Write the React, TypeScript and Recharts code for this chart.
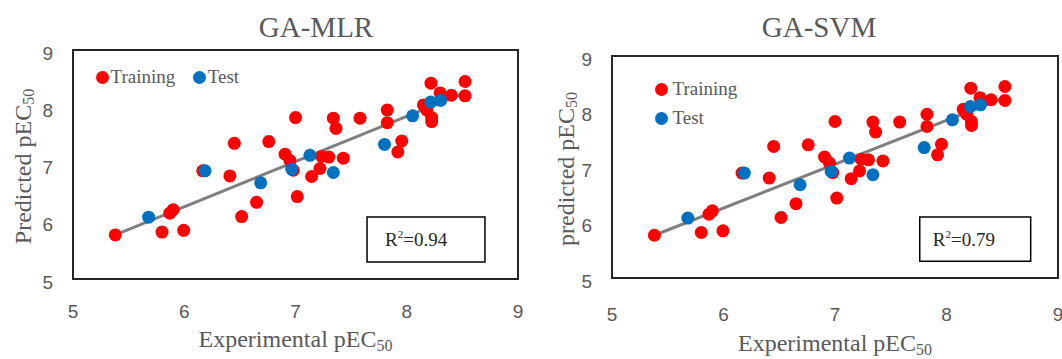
import React from 'react';
import { ScatterChart, Scatter, XAxis, YAxis, ReferenceArea, ReferenceLine, Legend, Label } from 'recharts';

// ---------- data ----------
const trainingExperimental = [5.38, 5.8, 5.995, 5.87, 5.9, 6.166, 6.41, 6.45, 6.516, 6.65, 6.76, 6.906, 6.95, 6.98, 7.0, 7.016, 7.145, 7.22, 7.235, 7.3, 7.34, 7.364, 7.43, 7.58, 7.825, 7.825, 7.92, 7.955, 8.15, 8.18, 8.218, 8.224, 8.224, 8.3, 8.4, 8.524, 8.524];
const trainingPredicted = [5.77, 5.82, 5.85, 6.15, 6.21, 6.89, 6.8, 7.37, 6.09, 6.34, 7.4, 7.18, 7.07, 6.9, 7.82, 6.44, 6.79, 6.93, 7.14, 7.13, 7.81, 7.63, 7.11, 7.81, 7.95, 7.73, 7.22, 7.41, 8.04, 7.95, 8.42, 7.82, 7.75, 8.25, 8.21, 8.45, 8.2];
const testExperimental = [5.68, 6.187, 6.687, 6.966, 7.13, 7.34, 7.8, 8.053, 8.215, 8.305];
const testPredicted = [6.08, 6.89, 6.68, 6.92, 7.16, 6.86, 7.35, 7.85, 8.09, 8.12];
const trendExperimental = [5.38, 8.53];
const trendPredicted = [5.77, 8.26];
const axisTicks = [5, 6, 7, 8, 9];
const axisDomain = [5, 9];
const seriesNames = ['Training', 'Test'];
const panelTitles = ['GA-MLR', 'GA-SVM'];
const yAxisTitles = ['Predicted pEC', 'predicted pEC'];
const xAxisTitle = 'Experimental pEC';
const subscriptText = '50';
const r2Values = ['0.94', '0.79'];
// R² annotation boxes (in data units): [x1, x2, y1, y2]
const r2Boxes = [
  [7.643, 8.703, 5.297, 6.083],
  [7.76, 8.755, 5.3, 6.1],
];

const trainingData = trainingExperimental.map((x, i) => ({ x, y: trainingPredicted[i] }));
const testData = testExperimental.map((x, i) => ({ x, y: testPredicted[i] }));

// ---------- style ----------
const SERIF = '"Liberation Serif", "Times New Roman", serif';
const SANS = '"Liberation Sans", Arial, sans-serif';
const GRAY = '#595959';
const RED = '#FF0000';
const BLUE = '#0070C0';
const COLORS = [RED, BLUE];

const panels = [
  {
    left: 0, width: 530,
    margin: { top: 50, right: 12, bottom: 40, left: 33 },
    titleX: 316, yLabelX: 22.5, xLabelDy: 68, xTickMargin: 26,
    legend: { vertical: false, left: 96, top: 66 },
    r2Dx: 18,
  },
  {
    left: 530, width: 532,
    margin: { top: 56, right: 4, bottom: 41, left: 42 },
    titleX: 289, yLabelX: 36, xLabelDy: 73, xTickMargin: 30,
    legend: { vertical: true, left: 125, top: 78 },
    r2Dx: 13,
  },
];

const RedDot = (p: any) => <circle cx={p.cx} cy={p.cy} r={6.5} fill={RED} />;
const BlueDot = (p: any) => <circle cx={p.cx} cy={p.cy} r={6.5} fill={BLUE} />;

const YTick = (p: any) => (
  <text x={p.x} y={p.y + 3} textAnchor="end" dominantBaseline="central" fill={GRAY} fontSize={19} fontFamily={SANS}>
    {p.payload.value}
  </text>
);
const XTick = (p: any) => (
  <text x={p.x} y={p.y} dy="0.71em" textAnchor="middle" fill={GRAY} fontSize={19} fontFamily={SANS}>
    {p.payload.value}
  </text>
);

const LegendBox = ({ vertical }: { vertical: boolean }) => (
  <div
    style={{
      display: 'flex',
      flexDirection: vertical ? 'column' : 'row',
      gap: vertical ? 7 : 18,
      fontFamily: SERIF,
      fontSize: 19,
      color: GRAY,
      whiteSpace: 'nowrap',
    }}
  >
    {seriesNames.map((n, i) => (
      <div key={n} style={{ display: 'flex', alignItems: 'center', height: 22, lineHeight: '22px' }}>
        <span
          style={{
            display: 'inline-block',
            width: 13,
            height: 13,
            borderRadius: '50%',
            background: COLORS[i],
            marginRight: vertical ? 4.5 : 1.5,
          }}
        />
        <span>{n}</span>
      </div>
    ))}
  </div>
);

function Panel({ idx }: { idx: number }) {
  const cfg = panels[idx];
  const box = r2Boxes[idx];
  return (
    <div style={{ position: 'absolute', left: cfg.left, top: 0, width: cfg.width, height: 359 }}>
      <div
        style={{
          position: 'absolute',
          left: cfg.titleX,
          top: 13,
          transform: 'translateX(-50%)',
          fontFamily: SERIF,
          fontSize: 29,
          lineHeight: '29px',
          color: GRAY,
          whiteSpace: 'nowrap',
        }}
      >
        {panelTitles[idx]}
      </div>
      <ScatterChart width={cfg.width} height={359} margin={cfg.margin} style={{ position: 'absolute', left: 0, top: 0 }}>
        <XAxis
          type="number"
          dataKey="x"
          domain={axisDomain}
          ticks={axisTicks}
          allowDataOverflow
          axisLine={false}
          tickLine={false}
          tickSize={0}
          tickMargin={cfg.xTickMargin}
          height={40}
          tick={<XTick />}
        >
          <Label
            content={(props: any) => {
              const vb = props.viewBox || {};
              return (
                <text x={vb.x + vb.width / 2} y={vb.y + cfg.xLabelDy} textAnchor="middle" fill={GRAY} fontFamily={SERIF} fontSize={24}>
                  {xAxisTitle}
                  <tspan fontSize={16} dy={4}>{subscriptText}</tspan>
                </text>
              );
            }}
          />
        </XAxis>
        <YAxis
          type="number"
          dataKey="y"
          domain={axisDomain}
          ticks={axisTicks}
          allowDataOverflow
          axisLine={false}
          tickLine={false}
          tickSize={0}
          tickMargin={20}
          width={40}
          tick={<YTick />}
        >
          <Label
            content={(props: any) => {
              const vb = props.viewBox || {};
              const cx = cfg.yLabelX;
              const cy = vb.y + vb.height / 2 + 2;
              return (
                <text
                  x={cx}
                  y={cy}
                  transform={`rotate(-90, ${cx}, ${cy})`}
                  textAnchor="middle"
                  dominantBaseline="central"
                  fill={GRAY}
                  fontFamily={SERIF}
                  fontSize={24}
                >
                  {yAxisTitles[idx]}
                  <tspan fontSize={16} dy={5}>{subscriptText}</tspan>
                </text>
              );
            }}
          />
        </YAxis>
        <ReferenceArea x1={axisDomain[0]} x2={axisDomain[1]} y1={axisDomain[0]} y2={axisDomain[1]} fill="none" fillOpacity={0} stroke="#262626" strokeWidth={2} ifOverflow="visible" />
        <Scatter name={seriesNames[0]} data={trainingData} fill={RED} shape={<RedDot />} isAnimationActive={false} />
        <Scatter name={seriesNames[1]} data={testData} fill={BLUE} shape={<BlueDot />} isAnimationActive={false} />
        <ReferenceLine
          segment={[
            { x: trendExperimental[0], y: trendPredicted[0] },
            { x: trendExperimental[1], y: trendPredicted[1] },
          ]}
          stroke="#7F7F7F"
          strokeWidth={3}
          ifOverflow="visible"
        />
        <ReferenceArea
          x1={box[0]}
          x2={box[1]}
          y1={box[2]}
          y2={box[3]}
          fill="#FFFFFF"
          fillOpacity={1}
          stroke="#000000"
          strokeWidth={1.5}
          ifOverflow="visible"
        >
          <Label
            content={(props: any) => {
              const vb = props.viewBox || {};
              return (
                <text x={vb.x + cfg.r2Dx} y={vb.y + vb.height / 2 + 7} fill="#262626" fontFamily={SERIF} fontSize={19}>
                  R<tspan fontSize={11} dy={-8}>2</tspan>
                  <tspan dy={8}>{'=' + r2Values[idx]}</tspan>
                </text>
              );
            }}
          />
        </ReferenceArea>
        <Legend
          layout={cfg.legend.vertical ? 'vertical' : 'horizontal'}
          align="center"
          verticalAlign="middle"
          wrapperStyle={{ left: cfg.legend.left, top: cfg.legend.top, width: 'auto', height: 'auto' }}
          content={() => <LegendBox vertical={cfg.legend.vertical} />}
        />
      </ScatterChart>
    </div>
  );
}

export default function App() {
  return (
    <div style={{ position: 'absolute', left: 0, top: 0, width: 1062, height: 359, background: '#fff', overflow: 'hidden' }}>
      <Panel idx={0} />
      <Panel idx={1} />
    </div>
  );
}
